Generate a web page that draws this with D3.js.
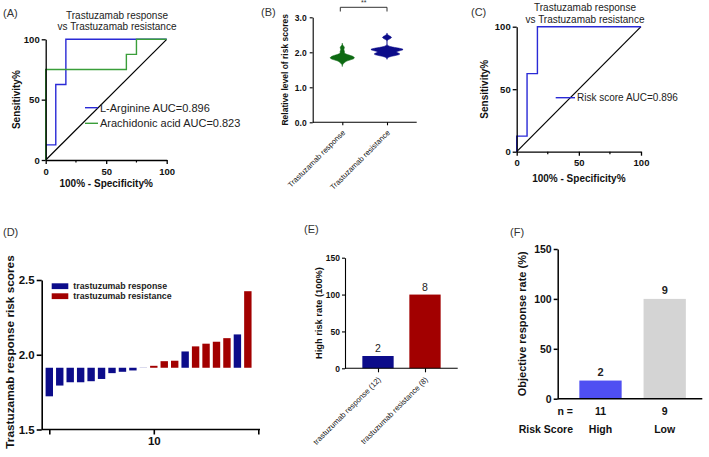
<!DOCTYPE html>
<html><head><meta charset="utf-8">
<script src="https://cdn.jsdelivr.net/npm/d3@7"></script>
<style>body{margin:0;background:#fff}svg{display:block}</style>
</head><body><svg id="c" width="709" height="457"></svg>
<script>
// ---------------- DATA ----------------
const rocTicks = [0, 50, 100];
const rocMinorTicks = [25, 75];
const rocTitle = ["Trastuzamab response", "vs Trastuzamab resistance"];
const argFpr = [0, 0, 8.33, 8.33, 16.67, 16.67, 100];
const argTpr = [0, 12.5, 12.5, 62.5, 62.5, 100, 100];
const araFpr = [0, 0, 66.67, 66.67, 75, 75, 100];
const araTpr = [0, 75, 75, 87.5, 87.5, 100, 100];
const riskFpr = [0, 0, 8.33, 8.33, 16.67, 16.67, 100];
const riskTpr = [0, 12.5, 12.5, 62.5, 62.5, 100, 100];
const legendA = ["L-Arginine AUC=0.896", "Arachidonic acid AUC=0.823"];
const legendC = ["Risk score AUC=0.896"];

const dScores = [1.722, 1.794, 1.816, 1.816, 1.823, 1.838, 1.877, 1.886, 1.895, 1.912,
                 1.926, 1.957, 1.960, 2.022, 2.056, 2.074, 2.087, 2.111, 2.136, 2.425];
const dGroups = ["response","response","response","response","response","response","response","response","response","response",
                 "resistance","resistance","resistance","response","resistance","resistance","resistance","resistance","response","resistance"];
const dCutoff = 1.913;
const dTicksY = [1.5, 2.0, 2.5];
const dTicksX = [0, 10, 20];
const dLegend = ["trastuzumab response", "trastuzumab resistance"];

const bCategories = ["Trastuzamab response", "Trastuzamab resistance"];
const bTicks = [0, 1, 2, 3];

const eCategories = ["trastuzumab response (12)", "trastuzumab resistance (8)"];
const eValues = [16.67, 100];
const eCounts = ["2", "8"];
const eTicks = [0, 50, 100, 150];

const fCategories = ["High", "Low"];
const fValues = [18.18, 100];
const fCounts = ["2", "9"];
const fN = ["11", "9"];
const fTicks = [0, 50, 100, 150];

// ---------------- DRAW ----------------
const FONT = '"Liberation Sans", Arial, Helvetica, sans-serif';
const svg = d3.select("#c");
const NAVY = "#0c0c8a", RED = "#a20000";

function styleAxis(g, size, bold, sw) {
  g.attr("font-family", FONT).attr("font-size", size).attr("font-weight", bold ? "bold" : "normal");
  g.select(".domain").attr("stroke", "#000").attr("stroke-width", sw);
  g.selectAll(".tick line").attr("stroke", "#000").attr("stroke-width", sw);
  g.selectAll(".tick text").attr("fill", "#111");
}
function txt(x, y, s, o = {}) {
  const t = svg.append("text").attr("x", x).attr("y", y).text(s)
    .attr("font-family", FONT).attr("font-size", o.size || 10)
    .attr("font-weight", o.bold ? "bold" : "normal")
    .attr("fill", o.fill || "#111").attr("text-anchor", o.anchor || "start");
  if (o.rot) t.attr("transform", `rotate(${o.rot},${x},${y})`);
  if (o.dy) t.attr("dy", o.dy);
  return t;
}

function rocPanel(p) {
  const x = d3.scaleLinear([0, 100], [p.x0, p.x1]);
  const y = d3.scaleLinear([0, 100], [p.y0, p.y1]);
  const g = svg.append("g");
  // diagonal
  g.append("line").attr("x1", x(0)).attr("y1", y(0)).attr("x2", x(100)).attr("y2", y(100))
    .attr("stroke", "#000").attr("stroke-width", 1.2);
  const line = d3.line().x(d => x(d[0])).y(d => y(d[1]));
  p.series.forEach(s => {
    g.append("path").attr("d", line(d3.zip(s.fpr, s.tpr))).attr("fill", "none")
      .attr("stroke", s.color).attr("stroke-width", 1.4);
  });
  const ay = g.append("g").attr("transform", `translate(${x(0)},0)`)
    .call(d3.axisLeft(y).tickValues(rocTicks).tickSize(4).tickPadding(2).tickSizeOuter(0));
  styleAxis(ay, p.tick, true, 1.3);
  const ax = g.append("g").attr("transform", `translate(0,${y(0)})`)
    .call(d3.axisBottom(x).tickValues(rocTicks).tickSize(4).tickPadding(4).tickSizeOuter(0));
  styleAxis(ax, p.tick, true, 1.3);
  rocMinorTicks.forEach(v => g.append("line").attr("x1", x(v)).attr("x2", x(v))
    .attr("y1", y(0)).attr("y2", y(0) + 2.5).attr("stroke", "#000").attr("stroke-width", 1.2));
  // legend
  p.series.forEach((s, i) => {
    const ly = p.legY + i * p.legDy;
    g.append("line").attr("x1", p.legX).attr("x2", p.legX + p.legW).attr("y1", ly).attr("y2", ly)
      .attr("stroke", s.color).attr("stroke-width", 1.4);
    txt(p.legX + p.legW + 2, ly, s.name, { size: p.legSize, fill: "#222", dy: "0.35em" });
  });
  txt(p.tx, p.ty1, rocTitle[0], { size: 10, anchor: "middle", fill: "#222" });
  txt(p.tx, p.ty2, rocTitle[1], { size: 10, anchor: "middle", fill: "#222" });
  txt((p.x0 + p.x1) / 2, p.xlabY, "100% - Specificity%", { size: 10, bold: true, anchor: "middle" });
  txt(p.ylabX, (p.y0 + p.y1) / 2, "Sensitivity%", { size: 10, bold: true, anchor: "middle", rot: -90, dy: "0.35em" });
  txt(p.lx, p.ly, p.label, { size: 11, fill: "#333" });
}

// Panel A
rocPanel({ x0: 45.7, x1: 166.7, y0: 160, y1: 39.3, tick: 9.5,
  series: [{ fpr: araFpr, tpr: araTpr, color: "#3a9e3a", name: legendA[1] },
           { fpr: argFpr, tpr: argTpr, color: "#2a2ad6", name: legendA[0] }].reverse(),
  legX: 85, legW: 13, legY: 107.7, legDy: 15.6, legSize: 11,
  tx: 117, ty1: 19, ty2: 30, xlabY: 186.5, ylabX: 17, lx: 3, ly: 16.5, label: "(A)" });

// Panel C
rocPanel({ x0: 516.7, x1: 641, y0: 151.7, y1: 26.7, tick: 9.5,
  series: [{ fpr: riskFpr, tpr: riskTpr, color: "#2a2ad6", name: legendC[0] }],
  legX: 555.7, legW: 19.3, legY: 97.7, legDy: 0, legSize: 10,
  tx: 585, ty1: 10.7, ty2: 22.5, xlabY: 182, ylabX: 485, lx: 471, ly: 16, label: "(C)" });

// Panel B (violins)
(function () {
  const y = d3.scaleLinear([0, 3], [122.3, 17.3]);
  const x = d3.scalePoint(bCategories, [342.3, 387]);
  const groupsData = [
    dScores.filter((v, i) => dGroups[i] === "response"),
    dScores.filter((v, i) => dGroups[i] === "resistance")
  ];
  const colors = ["#0d6a12", NAVY];
  const halfW = [12, 16];
  const bw = 0.042;
  groupsData.forEach((vals, gi) => {
    const lo = d3.min(vals) - 3 * bw, hi = d3.max(vals) + 3 * bw;
    const grid = d3.range(lo, hi + 1e-9, 0.004);
    const dens = grid.map(t => [t, d3.mean(vals, v => Math.exp(-0.5 * ((t - v) / bw) ** 2))]);
    const w = d3.scaleLinear([0, d3.max(dens, d => d[1])], [0, halfW[gi]]);
    const cx = x(bCategories[gi]);
    svg.append("path").attr("d", d3.area().y(d => y(d[0])).x0(d => cx - w(d[1])).x1(d => cx + w(d[1])).curve(d3.curveBasis)(dens))
      .attr("fill", colors[gi]).attr("stroke", colors[gi]).attr("stroke-width", 0.6);
  });
  const ay = svg.append("g").attr("transform", "translate(312.7,0)")
    .call(d3.axisLeft(y).tickValues(bTicks).tickSize(3).tickPadding(3).tickSizeOuter(0));
  styleAxis(ay, 8.5, true, 1.1);
  const ax = svg.append("g").attr("transform", "translate(0,122.3)")
    .call(d3.axisBottom(x).tickSize(3).tickSizeOuter(0));
  ax.select(".domain").remove();
  styleAxis(ax, 7.6, false, 1.1);
  ax.append("line").attr("x1", 312.7).attr("x2", 416.7).attr("stroke", "#000").attr("stroke-width", 1.1);
  ax.selectAll(".tick text").attr("y", 0).attr("dy", "0.35em").attr("text-anchor", "end")
    .attr("transform", "translate(1,9) rotate(-45)");
  // significance
  const bx1 = x(bCategories[0]) - 2, bx2 = x(bCategories[1]);
  svg.append("path").attr("d", `M${bx1},11.5V7.3H${bx2}V11.5`).attr("fill", "none").attr("stroke", "#333").attr("stroke-width", 1);
  txt((bx1 + bx2) / 2, 5, "**", { size: 7, anchor: "middle", fill: "#333" });
  txt(285, 69.8, "Relative level of risk scores", { size: 8.5, bold: true, anchor: "middle", rot: -90, dy: "0.35em" });
  txt(261, 16, "(B)", { size: 11, fill: "#333" });
})();

// Panel D (waterfall)
(function () {
  const y = d3.scaleLinear([1.5, 2.5], [429.5, 280]);
  const x = d3.scaleLinear([0, 20], [49.3, 258.3]);
  const bw = 7.4;
  svg.append("g").selectAll("rect").data(dScores).join("rect")
    .attr("x", (d, i) => x(i) - bw / 2).attr("width", bw)
    .attr("y", d => y(Math.max(d, dCutoff))).attr("height", d => Math.abs(y(d) - y(dCutoff)))
    .attr("fill", (d, i) => dGroups[i] === "response" ? NAVY : RED);
  const ay = svg.append("g").attr("transform", "translate(41.7,0)")
    .call(d3.axisLeft(y).tickValues(dTicksY).tickFormat(d3.format(".1f")).tickSize(5).tickPadding(2).tickSizeOuter(0));
  styleAxis(ay, 11.5, true, 1.6);
  const ax = svg.append("g").attr("transform", "translate(0,429.5)")
    .call(d3.axisBottom(x).tickValues(dTicksX).tickFormat(d => d === 10 ? "10" : "").tickSize(5).tickPadding(2).tickSizeOuter(0));
  ax.select(".domain").remove();
  styleAxis(ax, 11.5, true, 1.6);
  ax.append("line").attr("x1", 41.7).attr("x2", 260).attr("stroke", "#000").attr("stroke-width", 1.6);
  // legend
  [NAVY, RED].forEach((c, i) => {
    const ly = 283.3 + i * 10;
    svg.append("rect").attr("x", 51.7).attr("y", ly).attr("width", 16.6).attr("height", 5.8).attr("fill", c);
    txt(73.3, ly + 2.9, dLegend[i], { size: 8.8, bold: true, fill: "#222", dy: "0.35em" });
  });
  txt(10, 352, "Trastuzamab response risk scores", { size: 11.8, bold: true, anchor: "middle", rot: -90, dy: "0.35em" });
  txt(3, 236, "(D)", { size: 11, fill: "#333" });
})();

// Panel E
(function () {
  const y = d3.scaleLinear([0, 150], [368.3, 257.7]);
  const x = d3.scalePoint(eCategories, [378, 425]);
  const bw = 31.3;
  svg.append("g").selectAll("rect").data(eValues).join("rect")
    .attr("x", (d, i) => x(eCategories[i]) - bw / 2).attr("width", bw)
    .attr("y", d => y(d)).attr("height", d => y(0) - y(d))
    .attr("fill", (d, i) => i === 0 ? NAVY : RED);
  eValues.forEach((v, i) => txt(x(eCategories[i]), y(v) - 4, eCounts[i], { size: 10.5, anchor: "middle", fill: "#222" }));
  const ay = svg.append("g").attr("transform", "translate(345,0)")
    .call(d3.axisLeft(y).tickValues(eTicks).tickSize(3).tickPadding(2).tickSizeOuter(0));
  styleAxis(ay, 8.5, true, 1.1);
  const ax = svg.append("g").attr("transform", "translate(0,368.3)")
    .call(d3.axisBottom(x).tickSize(4).tickSizeOuter(0));
  ax.select(".domain").remove();
  styleAxis(ax, 7.7, false, 1.1);
  ax.append("line").attr("x1", 345).attr("x2", 457.7).attr("stroke", "#000").attr("stroke-width", 1.1);
  ax.selectAll(".tick text").attr("y", 0).attr("dy", "0.35em").attr("text-anchor", "end")
    .attr("transform", "translate(1,10) rotate(-45)");
  txt(318.3, 313, "High risk rate (100%)", { size: 9.3, bold: true, anchor: "middle", rot: -90, dy: "0.35em" });
  txt(304, 233, "(E)", { size: 11, fill: "#333" });
})();

// Panel F
(function () {
  const y = d3.scaleLinear([0, 150], [398.7, 249]);
  const x = d3.scalePoint(fCategories, [600.5, 664.7]);
  const bw = 42.3;
  svg.append("g").selectAll("rect").data(fValues).join("rect")
    .attr("x", (d, i) => x(fCategories[i]) - bw / 2).attr("width", bw)
    .attr("y", d => y(d)).attr("height", d => y(0) - y(d))
    .attr("fill", (d, i) => i === 0 ? "#4f4ff2" : "#d4d4d4");
  fValues.forEach((v, i) => txt(x(fCategories[i]), y(v) - 5, fCounts[i], { size: 11, bold: true, anchor: "middle", fill: "#222" }));
  const ay = svg.append("g").attr("transform", "translate(557.7,0)")
    .call(d3.axisLeft(y).tickValues(fTicks).tickSize(4).tickPadding(2).tickSizeOuter(0));
  styleAxis(ay, 10.5, true, 1.5);
  svg.append("line").attr("x1", 557.7).attr("x2", 702.3).attr("y1", 398.7).attr("y2", 398.7)
    .attr("stroke", "#000").attr("stroke-width", 1.5);
  fCategories.forEach((c, i) => {
    txt(x(c), 411, fN[i], { size: 10.5, bold: true, anchor: "middle", dy: "0.35em" });
    txt(x(c), 429.3, c, { size: 10.5, bold: true, anchor: "middle", dy: "0.35em" });
  });
  txt(573, 411, "n =", { size: 10.5, bold: true, anchor: "end", dy: "0.35em" });
  txt(573, 429.3, "Risk Score", { size: 10.5, bold: true, anchor: "end", dy: "0.35em" });
  txt(522.3, 323.8, "Objective response rate (%)", { size: 11, bold: true, anchor: "middle", rot: -90, dy: "0.35em" });
  txt(510, 235.5, "(F)", { size: 11, fill: "#333" });
})();
</script></body></html>
